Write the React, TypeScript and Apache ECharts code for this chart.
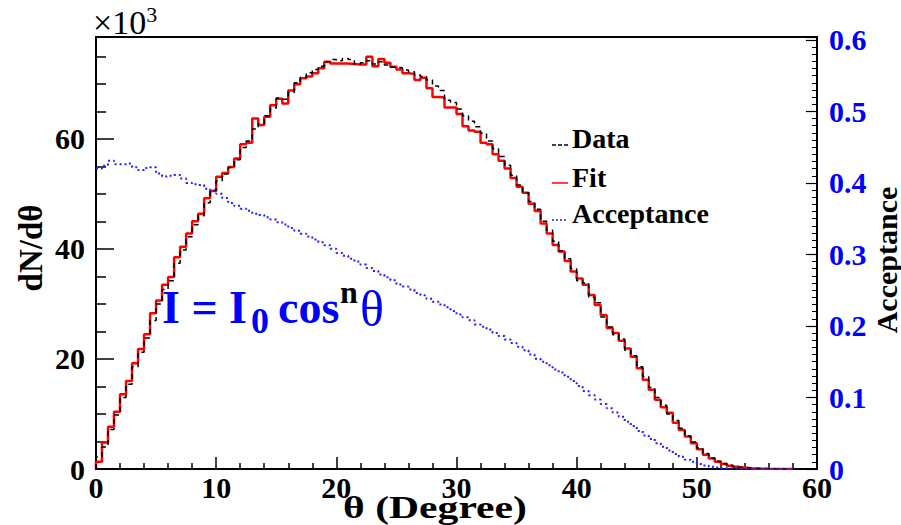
import React, { useEffect, useRef } from "react";
import * as echarts from "echarts";

// Bin width (degrees) of the histograms
const BIN_WIDTH = 0.5;

// Fit (red), in units of 10^3, one value per 0.5° bin starting at 0°
const fitCounts = [
  1.3, 4.8, 7.7, 10.4, 13.6, 16.0, 19.2, 21.8, 24.5, 28.3,
  30.6, 33.5, 34.9, 38.5, 40.4, 42.8, 45.0, 46.4, 49.2, 50.5,
  53.1, 53.8, 54.9, 56.4, 59.0, 59.3, 63.7, 62.5, 64.0, 66.1,
  67.3, 66.4, 68.8, 69.9, 71.0, 71.3, 71.9, 72.8, 74.0, 73.7,
  73.7, 73.7, 73.6, 73.5, 73.5, 74.9, 73.2, 74.5, 73.8, 73.1,
  72.6, 71.9, 71.8, 70.7, 71.1, 69.2, 67.6, 67.5, 65.7, 65.7,
  64.5, 62.3, 61.5, 61.3, 59.3, 59.0, 57.2, 56.0, 54.6, 52.9,
  51.3, 50.2, 48.2, 46.9, 44.6, 42.8, 40.7, 39.5, 37.8, 35.9,
  34.6, 33.5, 31.6, 29.8, 28.0, 25.6, 24.7, 23.3, 21.9, 20.4,
  18.3, 16.2, 14.4, 12.6, 11.2, 10.2, 8.4, 7.1, 5.9, 4.7,
  3.6, 2.6, 1.9, 1.3, 0.9, 0.6, 0.4, 0.25, 0.15, 0.1,
  0.05, 0.03, 0.02, 0.01, 0, 0,
];

// Data (black dashed), in units of 10^3
const dataCounts = [
  2.2, 4.0, 7.2, 9.8, 13.0, 15.4, 18.6, 21.2, 23.8, 27.0,
  30.0, 32.6, 34.2, 37.4, 39.8, 42.2, 44.4, 46.0, 48.4, 50.6,
  52.4, 53.6, 54.8, 56.2, 58.4, 59.6, 61.8, 62.8, 64.2, 65.6,
  67.4, 67.2, 68.4, 70.2, 71.2, 72.0, 72.6, 73.2, 74.0, 74.4,
  74.2, 74.6, 74.4, 73.6, 73.8, 74.2, 73.6, 74.0, 73.4, 73.0,
  72.9, 72.5, 72.2, 71.6, 71.3, 70.7, 69.6, 68.8, 67.0, 66.6,
  65.4, 64.2, 63.2, 62.2, 61.0, 59.6, 58.2, 56.8, 55.2, 53.4,
  51.6, 50.2, 48.6, 47.2, 45.0, 43.4, 41.4, 39.6, 38.2, 36.4,
  34.2, 33.8, 31.2, 30.2, 27.6, 25.8, 24.4, 23.6, 21.6, 20.6,
  18.6, 16.8, 14.8, 13.0, 11.6, 10.0, 8.8, 7.4, 6.0, 4.9,
  3.8, 2.8, 2.0, 1.4, 1.0, 0.7, 0.45, 0.3, 0.2, 0.12,
  0.08, 0.05, 0.03, 0.02, 0.01, 0,
];

// Acceptance (blue dotted, right axis)
const acceptance = [
  0.420, 0.424, 0.431, 0.426, 0.426, 0.427, 0.422, 0.418, 0.421, 0.422,
  0.413, 0.409, 0.410, 0.411, 0.406, 0.400, 0.398, 0.397, 0.392, 0.389,
  0.385, 0.379, 0.372, 0.368, 0.364, 0.361, 0.357, 0.355, 0.352, 0.349,
  0.345, 0.342, 0.337, 0.333, 0.329, 0.325, 0.321, 0.317, 0.313, 0.308,
  0.302, 0.298, 0.294, 0.290, 0.286, 0.281, 0.277, 0.272, 0.268, 0.264,
  0.258, 0.255, 0.251, 0.246, 0.243, 0.238, 0.234, 0.230, 0.226, 0.221,
  0.216, 0.212, 0.208, 0.202, 0.199, 0.195, 0.190, 0.186, 0.181, 0.176,
  0.171, 0.166, 0.160, 0.154, 0.150, 0.145, 0.139, 0.135, 0.129, 0.123,
  0.116, 0.109, 0.103, 0.097, 0.091, 0.085, 0.079, 0.073, 0.066, 0.060,
  0.053, 0.047, 0.042, 0.036, 0.031, 0.026, 0.021, 0.017, 0.013, 0.010,
  0.007, 0.005, 0.003, 0.002, 0.001, 0.001, 0.0005, 0.0005, 0.0003, 0.0002,
  0.0001, 0.0001, 0, 0, 0, 0,
];

const legendLabels = ["Data", "Fit", "Acceptance"];
const xAxisTitle = "θ (Degree)";
const leftAxisTitle = "dN/dθ";
const rightAxisTitle = "Acceptance";

const SERIF = '"Liberation Serif", "Times New Roman", serif';
const BLUE = "#0000ff";

function histPoints(values: number[], fromZero: boolean) {
  const pts: number[][] = [];
  if (fromZero) pts.push([0, 0]);
  values.forEach((v, i) => pts.push([i * BIN_WIDTH, v]));
  const end = values.length * BIN_WIDTH;
  pts.push([end, values[values.length - 1]]);
  return pts;
}

export default function App() {
  const ref = useRef<HTMLDivElement>(null);

  useEffect(() => {
    if (!ref.current) return;
    const chart = echarts.init(ref.current, null, { renderer: "svg" });
    const labelFont = { fontFamily: SERIF, fontWeight: "bold" as const, fontSize: 30, color: "#000" };

    chart.setOption({
      animation: false,
      backgroundColor: "#fff",
      grid: {
        left: 96, right: 84, top: 37, bottom: 56,
        show: true, borderColor: "#000", borderWidth: 2, backgroundColor: "transparent",
      },
      xAxis: {
        type: "value", min: 0, max: 60, interval: 10,
        axisLine: { show: true, lineStyle: { color: "#000", width: 2 } },
        axisTick: { show: true, inside: true, length: 12, lineStyle: { color: "#000", width: 1.5 } },
        minorTick: { show: true, splitNumber: 5, length: 6, lineStyle: { color: "#000", width: 1.5 } },
        splitLine: { show: false },
        axisLabel: { ...labelFont, margin: 3 },
      },
      yAxis: [
        {
          type: "value", min: 0, max: 78.5, interval: 20,
          axisLine: { show: true, lineStyle: { color: "#000", width: 2 } },
          axisTick: { show: true, inside: true, length: 18, lineStyle: { color: "#000", width: 1.5 } },
          minorTick: { show: true, splitNumber: 4, length: 10, lineStyle: { color: "#000", width: 1.5 } },
          splitLine: { show: false },
          axisLabel: { ...labelFont, margin: 11, showMaxLabel: false },
        },
        {
          type: "value", position: "right", min: 0, max: 0.604, interval: 0.1,
          axisLine: { show: true, lineStyle: { color: "#000", width: 2 } },
          axisTick: { show: true, inside: true, length: 11, lineStyle: { color: "#000", width: 1.2 } },
          minorTick: { show: true, splitNumber: 10, length: 5, lineStyle: { color: "#000", width: 1 } },
          splitLine: { show: false },
          axisLabel: {
            ...labelFont, color: BLUE, margin: 12, showMaxLabel: false,
            formatter: (v: number) => (v === 0 ? "0" : v.toFixed(1)),
          },
        },
      ],
      series: [
        {
          name: "Fit", type: "line", step: "end", symbol: "none", z: 2,
          data: histPoints(fitCounts, true),
          lineStyle: { color: "#ff0000", width: 2.5 },
        },
        {
          name: "Data", type: "line", step: "end", symbol: "none", z: 3,
          data: histPoints(dataCounts, true),
          lineStyle: { color: "#000", width: 1.5, type: [5, 4] },
        },
        {
          name: "Acceptance", type: "line", step: "end", symbol: "none", z: 4, yAxisIndex: 1,
          data: histPoints(acceptance, false),
          lineStyle: { color: "#2020ff", width: 2, type: [2, 3] },
        },
      ],
      graphic: [
        // ×10^3 multiplier
        {
          type: "text", left: 93, top: 3,
          style: {
            text: "×10{s|3}", fontFamily: SERIF, fontSize: 34, fill: "#000",
            rich: { s: { fontFamily: SERIF, fontSize: 22, verticalAlign: "top", padding: [0, 0, 16, 0] } },
          },
        },
        // axis titles
        {
          type: "text", x: 31, y: 248, rotation: Math.PI / 2,
          style: { text: leftAxisTitle, fontFamily: SERIF, fontWeight: "bold", fontSize: 33, fill: "#000", align: "center", verticalAlign: "middle" },
        },
        {
          type: "text", x: 886, y: 260, rotation: Math.PI / 2,
          style: { text: rightAxisTitle, fontFamily: SERIF, fontWeight: "bold", fontSize: 30, fill: "#000", align: "center", verticalAlign: "middle" },
        },
        {
          type: "text", x: 435, y: 507, scaleX: 1.3,
          style: { text: xAxisTitle, fontFamily: SERIF, fontWeight: "bold", fontSize: 32, fill: "#000", align: "center", verticalAlign: "middle" },
        },
        // legend
        { type: "line", shape: { x1: 552, y1: 145, x2: 568, y2: 145 }, style: { stroke: "#000", lineWidth: 1.5, lineDash: [4, 2] } },
        { type: "text", x: 572, y: 138, style: { text: legendLabels[0], fontFamily: SERIF, fontWeight: "bold", fontSize: 28, fill: "#000", align: "left", verticalAlign: "middle" } },
        { type: "line", shape: { x1: 552, y1: 183, x2: 568, y2: 183 }, style: { stroke: "#ff0000", lineWidth: 1.5 } },
        { type: "text", x: 572, y: 177, style: { text: legendLabels[1], fontFamily: SERIF, fontWeight: "bold", fontSize: 28, fill: "#000", align: "left", verticalAlign: "middle" } },
        { type: "line", shape: { x1: 552, y1: 220, x2: 568, y2: 220 }, style: { stroke: "#2020ff", lineWidth: 1.5, lineDash: [2, 2] } },
        { type: "text", x: 572, y: 213, style: { text: legendLabels[2], fontFamily: SERIF, fontWeight: "bold", fontSize: 28, fill: "#000", align: "left", verticalAlign: "middle" } },
        // formula I = I0 cos^n θ
        { type: "text", x: 162, y: 307, style: { text: "I = I", fontFamily: SERIF, fontWeight: "bold", fontSize: 46, fill: BLUE, align: "left", verticalAlign: "middle" } },
        { type: "text", x: 251, y: 321, style: { text: "0", fontFamily: SERIF, fontWeight: "bold", fontSize: 36, fill: BLUE, align: "left", verticalAlign: "middle" } },
        { type: "text", x: 278, y: 307, style: { text: "cos", fontFamily: SERIF, fontWeight: "bold", fontSize: 46, fill: BLUE, align: "left", verticalAlign: "middle" } },
        { type: "text", x: 340, y: 292, style: { text: "n", fontFamily: SERIF, fontWeight: "bold", fontSize: 32, fill: "#000", align: "left", verticalAlign: "middle" } },
        { type: "text", x: 360, y: 309, style: { text: "θ", fontFamily: SERIF, fontSize: 50, fill: BLUE, align: "left", verticalAlign: "middle" } },
      ],
    });
    return () => chart.dispose();
  }, []);

  return <div ref={ref} style={{ position: "fixed", left: 0, top: 0, width: 901, height: 525 }} />;
}
